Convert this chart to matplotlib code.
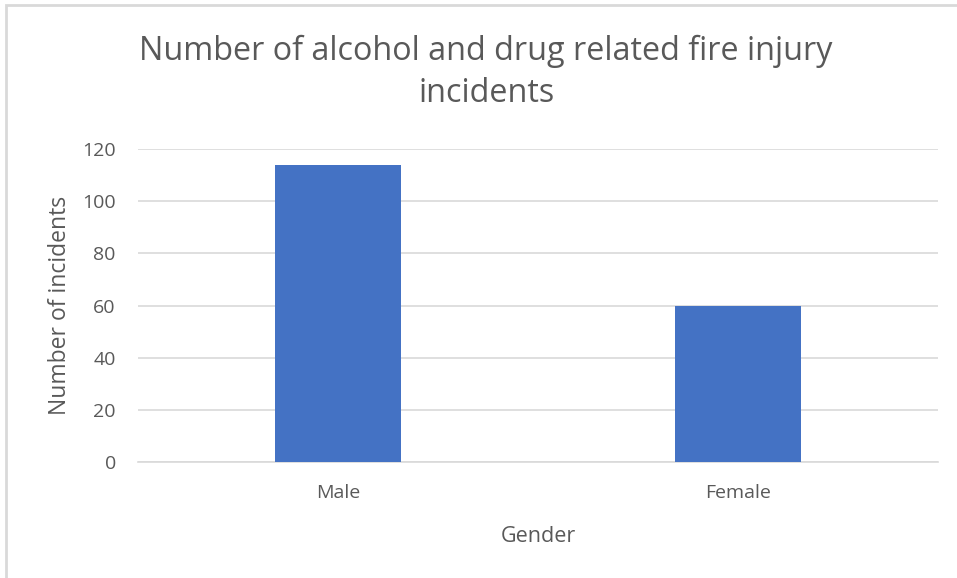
import matplotlib.pyplot as plt
from matplotlib.patches import Rectangle

# data
genders = ["Male", "Female"]
incidents = [114, 60]
yticks = [0, 20, 40, 60, 80, 100, 120]

grey = "#595959"
plt.rcParams['font.family'] = ['Open Sans', 'DejaVu Sans']

fig = plt.figure(figsize=(9.57, 5.78), dpi=100)
ax = fig.add_axes([0.1442, 0.2007, 0.836, 0.5415])

ax.bar(range(len(genders)), incidents, width=0.315, color="#4472C4", zorder=3)
ax.set_xlim(-0.5, 1.5)
ax.set_ylim(0, 120)
ax.set_yticks(yticks)
ax.set_xticks(range(len(genders)))
ax.set_xticklabels(genders)
ax.grid(axis="y", color="#d9d9d9", linewidth=1.2, zorder=0)
for s in ["top", "right", "left"]:
    ax.spines[s].set_visible(False)
ax.spines["bottom"].set_color("#d9d9d9")
ax.spines["bottom"].set_linewidth(1.2)
ax.tick_params(axis="both", length=0, labelsize=14, colors=grey)
ax.tick_params(axis="y", pad=16)
ax.tick_params(axis="x", pad=16)

ax.set_xlabel("Gender", fontsize=15.5, color=grey, labelpad=17)
ax.set_ylabel("Number of incidents", fontsize=16.5, color=grey, labelpad=7)

fig.text(0.508, 0.8746, "Number of alcohol and drug related fire injury\nincidents",
         ha="center", va="center", fontsize=23.3, color=grey, linespacing=1.35)

# outer chart border
fig.patches.append(Rectangle((0.006, -0.02), 1.1, 1.012, transform=fig.transFigure,
                             fill=False, edgecolor="#d9d9d9", linewidth=2))

fig.savefig("out.png", dpi=100)
